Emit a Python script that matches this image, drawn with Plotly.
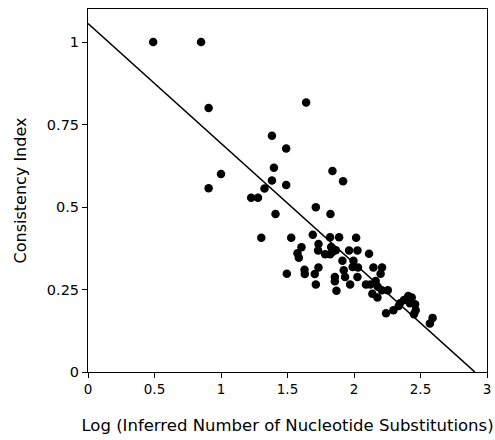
import plotly.graph_objects as go

log_subst = [0.49, 0.85, 0.907, 0.907, 1.0, 1.227, 1.278, 1.64, 1.383, 1.49,
             1.398, 1.838, 1.918, 1.383, 1.49, 1.327, 1.713, 1.823, 1.41, 1.303,
             1.528, 1.69, 1.82, 1.888, 2.016, 1.605, 1.575, 1.585, 1.733, 1.73,
             1.783, 1.828, 1.838, 1.863, 1.963, 2.026, 2.113, 1.913, 1.996, 1.99,
             2.03, 1.923, 1.733, 1.628, 1.63, 1.705, 1.495, 1.933, 1.856, 1.856,
             2.026, 2.146, 2.211, 2.2, 1.713, 1.971, 1.868, 2.09, 2.123, 2.163,
             2.179, 2.209, 2.254, 2.138, 2.176, 2.241, 2.296, 2.336, 2.376, 2.408,
             2.434, 2.42, 2.459, 2.464, 2.451, 2.571, 2.591, 1.82, 2.346]
consistency = [1.0, 1.0, 0.80, 0.557, 0.60, 0.528, 0.528, 0.817, 0.716, 0.677,
               0.619, 0.609, 0.578, 0.58, 0.567, 0.556, 0.499, 0.479, 0.479, 0.407,
               0.407, 0.416, 0.408, 0.408, 0.407, 0.378, 0.36, 0.346, 0.388, 0.368,
               0.357, 0.379, 0.364, 0.369, 0.368, 0.368, 0.358, 0.337, 0.337, 0.318,
               0.317, 0.308, 0.317, 0.31, 0.297, 0.297, 0.298, 0.288, 0.288, 0.275,
               0.288, 0.317, 0.317, 0.298, 0.265, 0.265, 0.246, 0.265, 0.265, 0.276,
               0.258, 0.248, 0.248, 0.237, 0.226, 0.178, 0.187, 0.2, 0.218, 0.23,
               0.226, 0.208, 0.205, 0.187, 0.175, 0.147, 0.164, 0.357, 0.208]

fit_intercept = 1.056
fit_slope = -0.363

x_tick_vals = [0, 0.5, 1, 1.5, 2, 2.5, 3]
x_tick_text = ["0", "0.5", "1", "1.5", "2", "2.5", "3"]
y_tick_vals = [0, 0.25, 0.5, 0.75, 1]
y_tick_text = ["0", "0.25", "0.5", "0.75", "1"]

x_end = -fit_intercept / fit_slope
line_x = [0, x_end]
line_y = [fit_intercept + fit_slope * v for v in line_x]

font_family = "DejaVu Sans"

fig = go.Figure()
fig.add_trace(go.Scatter(x=line_x, y=line_y, mode="lines",
                         line=dict(color="black", width=1.6),
                         showlegend=False, hoverinfo="skip"))
fig.add_trace(go.Scatter(x=log_subst, y=consistency, mode="markers",
                         marker=dict(color="black", size=8.5, line=dict(width=0)),
                         showlegend=False))

fig.update_layout(
    width=495, height=440,
    margin=dict(l=88, r=8, t=9, b=68),
    paper_bgcolor="white", plot_bgcolor="white",
    font=dict(family=font_family, color="black", size=13),
    xaxis=dict(range=[0, 3], tickvals=x_tick_vals, ticktext=x_tick_text,
               ticks="outside", ticklen=5, tickwidth=1, tickcolor="black",
               showgrid=False, zeroline=False, showline=True, linecolor="black",
               linewidth=1, mirror=True, automargin=False,
               title=dict(text="Log (Inferred Number of Nucleotide Substitutions)",
                          font=dict(size=16.5), standoff=23),
               tickfont=dict(size=13.5)),
    yaxis=dict(range=[0, 1.1], tickvals=y_tick_vals, ticktext=y_tick_text,
               ticks="outside", ticklen=5, tickwidth=1, tickcolor="black",
               showgrid=False, zeroline=False, showline=True, linecolor="black",
               linewidth=1, mirror=True, automargin=False,
               title=dict(text="Consistency Index", font=dict(size=16), standoff=16),
               tickfont=dict(size=14.5)),
)

fig.write_html("out.html", config={"displayModeBar": False},
               post_script="document.body.style.margin='0';")
